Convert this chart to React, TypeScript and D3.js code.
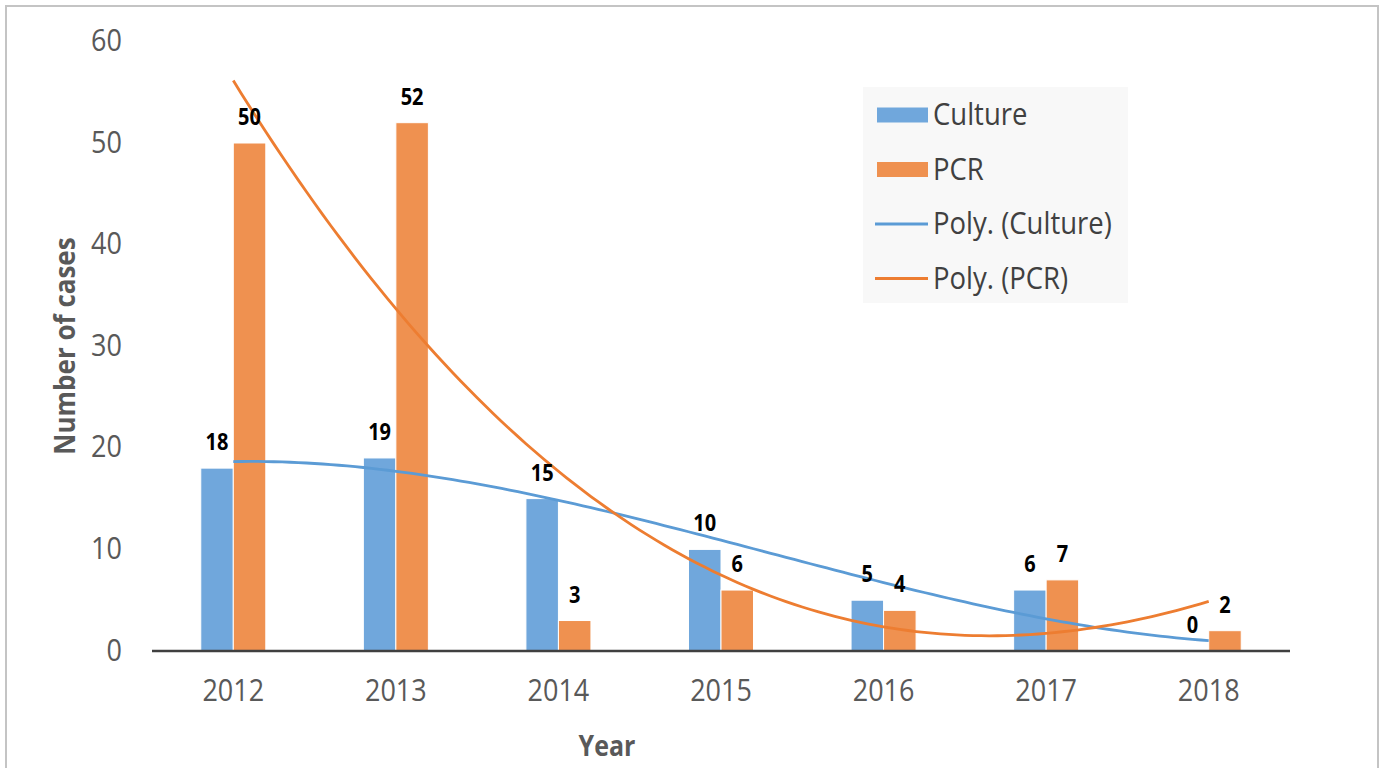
import React from "react";
import * as d3 from "d3";

const years = ["2012", "2013", "2014", "2015", "2016", "2017", "2018"];
const culture = [18, 19, 15, 10, 5, 6, 0];
const pcr = [50, 52, 3, 6, 4, 7, 2];
const yTicks = [0, 10, 20, 30, 40, 50, 60];

const BLUE = "#70a7dc";
const ORANGE = "#ef9150";
const BLUE_LINE = "#5b9bd5";
const ORANGE_LINE = "#ed7d31";
const FONT = "'Open Sans', sans-serif";
const STRETCH = 1.12; // source text is a little taller than Open Sans

// least squares polynomial fit (like Excel's Poly. trendline)
function polyfit(xs: number[], ys: number[], order: number) {
  const n = order + 1;
  const A: number[][] = [];
  for (let i = 0; i < n; i++) {
    A.push([]);
    for (let j = 0; j <= n; j++) A[i].push(0);
  }
  xs.forEach((x, k) => {
    for (let i = 0; i < n; i++) {
      for (let j = 0; j < n; j++) A[i][j] += Math.pow(x, i + j);
      A[i][n] += Math.pow(x, i) * ys[k];
    }
  });
  for (let i = 0; i < n; i++) {
    let p = i;
    for (let r = i + 1; r < n; r++) if (Math.abs(A[r][i]) > Math.abs(A[p][i])) p = r;
    [A[i], A[p]] = [A[p], A[i]];
    for (let r = 0; r < n; r++) {
      if (r === i) continue;
      const f = A[r][i] / A[i][i];
      for (let c = i; c <= n; c++) A[r][c] -= f * A[i][c];
    }
  }
  const coef = A.map((row, i) => row[n] / row[i]);
  return (x: number) => coef.reduce((s, c, i) => s + c * Math.pow(x, i), 0);
}

const at = (x: number, y: number) => `translate(${x},${y}) scale(1,${STRETCH})`;

const App = () => {
  const ref = React.useRef<SVGSVGElement>(null);

  React.useEffect(() => {
    const svg = d3.select(ref.current);
    svg.selectAll("*").remove();

    const x = d3.scaleBand().domain(years).range([152, 1290]);
    const y = d3.scaleLinear().domain([0, 60]).range([651, 41.4]);
    const bw = x.bandwidth() * 0.2;
    const cx = (yr: string) => (x(yr) as number) + x.bandwidth() / 2;

    // frame
    svg
      .append("rect")
      .attr("x", 6)
      .attr("y", 6)
      .attr("width", 1372)
      .attr("height", 800)
      .attr("fill", "#fff")
      .attr("stroke", "#c4c4c4")
      .attr("stroke-width", 2);

    // y tick labels
    svg
      .append("g")
      .selectAll("text")
      .data(yTicks)
      .join("text")
      .attr("transform", (d) => at(122, y(d) + 9.5))
      .attr("text-anchor", "end")
      .attr("font-family", FONT)
      .attr("font-size", 27)
      .attr("fill", "#595959")
      .text((d) => d);

    // bars
    const bars = svg.append("g");
    bars
      .selectAll("rect.c")
      .data(culture)
      .join("rect")
      .attr("x", (d, i) => cx(years[i]) - bw)
      .attr("y", (d) => y(d))
      .attr("width", bw)
      .attr("height", (d) => y(0) - y(d))
      .attr("fill", BLUE)
      .attr("stroke", "#fff")
      .attr("stroke-width", 1);
    bars
      .selectAll("rect.p")
      .data(pcr)
      .join("rect")
      .attr("x", (d, i) => cx(years[i]))
      .attr("y", (d) => y(d))
      .attr("width", bw)
      .attr("height", (d) => y(0) - y(d))
      .attr("fill", ORANGE)
      .attr("stroke", "#fff")
      .attr("stroke-width", 1);

    // x axis line
    svg
      .append("line")
      .attr("x1", 152)
      .attr("x2", 1290)
      .attr("y1", y(0))
      .attr("y2", y(0))
      .attr("stroke", "#404040")
      .attr("stroke-width", 2.5);

    // trend lines
    const idx = years.map((_, i) => i + 1);
    const fitC = polyfit(idx, culture, 3);
    const fitP = polyfit(idx, pcr, 3);
    const xs = d3.range(1, 7.001, 0.05);
    const xPos = (t: number) => cx(years[0]) + (t - 1) * x.step();
    const line = (f: (t: number) => number) =>
      d3
        .line<number>()
        .x((t) => xPos(t))
        .y((t) => y(f(t)))(xs);
    svg
      .append("path")
      .attr("d", line(fitC))
      .attr("fill", "none")
      .attr("stroke", BLUE_LINE)
      .attr("stroke-width", 2.8);
    svg
      .append("path")
      .attr("d", line(fitP))
      .attr("fill", "none")
      .attr("stroke", ORANGE_LINE)
      .attr("stroke-width", 2.8);

    // data labels
    const labels = svg
      .append("g")
      .attr("font-family", FONT)
      .attr("font-weight", "bold")
      .attr("font-size", 20)
      .attr("text-anchor", "middle")
      .attr("fill", "#000");
    culture.forEach((d, i) => {
      labels.append("text").attr("transform", at(cx(years[i]) - bw / 2, y(d) - 18)).text(d);
    });
    pcr.forEach((d, i) => {
      labels.append("text").attr("transform", at(cx(years[i]) + bw / 2, y(d) - 18)).text(d);
    });

    // x tick labels
    svg
      .append("g")
      .selectAll("text")
      .data(years)
      .join("text")
      .attr("transform", (d) => at(cx(d), 701))
      .attr("text-anchor", "middle")
      .attr("font-family", FONT)
      .attr("font-size", 27)
      .attr("fill", "#595959")
      .text((d) => d);

    // axis titles
    svg
      .append("text")
      .attr("transform", at(607, 756))
      .attr("text-anchor", "middle")
      .attr("font-family", FONT)
      .attr("font-weight", "bold")
      .attr("font-size", 25)
      .attr("fill", "#595959")
      .text("Year");
    svg
      .append("text")
      .attr("transform", "translate(75,346) rotate(-90) scale(1,1.1)")
      .attr("text-anchor", "middle")
      .attr("font-family", FONT)
      .attr("font-weight", "bold")
      .attr("font-size", 26)
      .attr("fill", "#595959")
      .text("Number of cases");

    // legend
    const lg = svg.append("g");
    lg.append("rect").attr("x", 863).attr("y", 87).attr("width", 265).attr("height", 216).attr("fill", "#f8f8f8");
    const items = [
      { name: "Culture", type: "bar", color: BLUE },
      { name: "PCR", type: "bar", color: ORANGE },
      { name: "Poly. (Culture)", type: "line", color: BLUE_LINE },
      { name: "Poly. (PCR)", type: "line", color: ORANGE_LINE },
    ];
    items.forEach((it, i) => {
      const cy = 115 + i * 54.5;
      if (it.type === "bar") {
        lg.append("rect").attr("x", 877).attr("y", cy - 7.5).attr("width", 51).attr("height", 15).attr("fill", it.color);
      } else {
        lg.append("line").attr("x1", 875).attr("x2", 928).attr("y1", cy).attr("y2", cy).attr("stroke", it.color).attr("stroke-width", 2.8);
      }
      lg.append("text")
        .attr("transform", at(933, cy + 10))
        .attr("font-family", FONT)
        .attr("font-size", 27.5)
        .attr("fill", "#404040")
        .text(it.name);
    });
  }, []);

  return (
    <svg
      ref={ref}
      width={1384}
      height={768}
      style={{ position: "absolute", left: 0, top: 0, background: "#fff" }}
    />
  );
};

export default App;
